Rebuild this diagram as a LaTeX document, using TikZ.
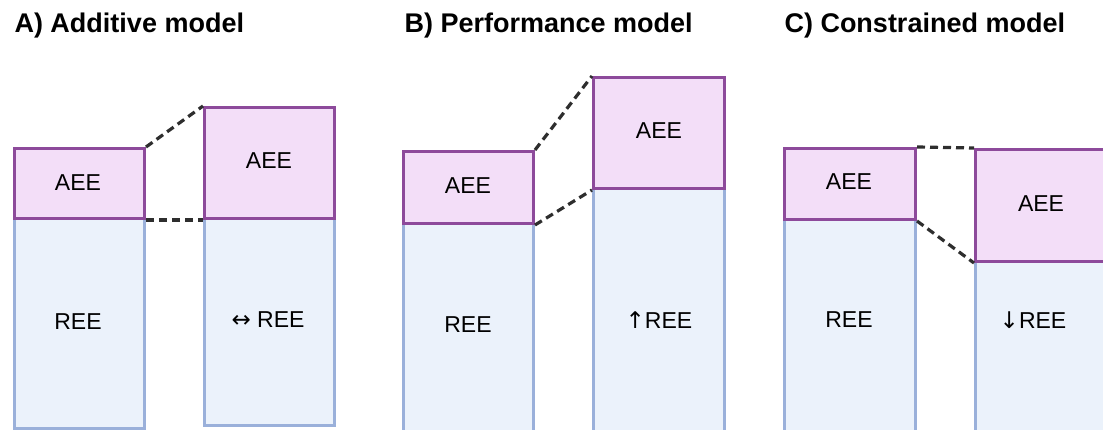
\documentclass[tikz,border=0pt]{standalone}
\usepackage{fontspec}
\setmainfont{Liberation Sans}
\newfontfamily\arrowfont{DejaVu Sans}
\definecolor{aeefill}{HTML}{F3DEF8}
\definecolor{aeeline}{HTML}{8D4A9B}
\definecolor{reefill}{HTML}{EBF2FB}
\definecolor{reeline}{HTML}{9AB0DA}
\definecolor{dashcol}{HTML}{2E2E2E}
\begin{document}
\begin{tikzpicture}[x=1pt,y=-1pt,
  aee/.style={draw=aeeline, fill=aeefill, line width=3pt, anchor=north west, inner sep=0pt},
  ree/.style={draw=reeline, fill=reefill, line width=3pt, anchor=north west, inner sep=0pt},
  lbl/.style={font=\fontsize{23}{25}\selectfont, text=black},
  ttl/.style={font=\fontsize{27}{30}\selectfont\bfseries, anchor=base west},
  link/.style={draw=dashcol, line width=3.2pt, dash pattern=on 8pt off 5pt}]
\useasboundingbox (0,0) rectangle (1103,430);
\clip (0,0) rectangle (1103,430);

% panel titles
\node[ttl] (ta) at (11,33) {A) Additive model};
\node[ttl] (tb) at (401,33) {B) Performance model};
\node[ttl] (tc) at (781,33) {C) Constrained model};

% A) additive model
\node[ree, minimum width=130, minimum height=210] (a1r) at (13,217) {};
\node[aee, minimum width=130, minimum height=70] (a1a) at (13,147) {};
\node[ree, minimum width=130, minimum height=207] (a2r) at (203,217) {};
\node[aee, minimum width=130, minimum height=111] (a2a) at (203,106) {};
\draw[link] (a1a.north east) -- (a2a.north west);
\draw[link] (a1a.south east) -- (a2a.south west);

% B) performance model
\node[ree, minimum width=130, minimum height=210] (b1r) at (402,222) {};
\node[aee, minimum width=130, minimum height=72] (b1a) at (402,150) {};
\node[ree, minimum width=131, minimum height=245] (b2r) at (592,187) {};
\node[aee, minimum width=131, minimum height=111] (b2a) at (592,76) {};
\draw[link] (b1a.north east) -- (b2a.north west);
\draw[link] (b1a.south east) -- (b2a.south west);

% C) constrained model
\node[ree, minimum width=131, minimum height=212] (c1r) at (783,218) {};
\node[aee, minimum width=131, minimum height=71] (c1a) at (783,147) {};
\node[ree, minimum width=140, minimum height=170] (c2r) at (974,260) {};
\node[aee, minimum width=140, minimum height=112] (c2a) at (974,148) {};
\draw[link] (c1a.north east) -- (c2a.north west);
\draw[link] (c1a.south east) -- (c2a.south west);

% box labels
\node[lbl] (la1a) at (78,183) {AEE};
\node[lbl] (la1r) at (78,322) {REE};
\node[lbl] (la2a) at (269,161) {AEE};
\node[lbl] (la2r) at (268,320) {{\arrowfont ↔} REE};
\node[lbl] (lb1a) at (468,186) {AEE};
\node[lbl] (lb1r) at (468,325) {REE};
\node[lbl] (lb2a) at (659,131) {AEE};
\node[lbl] (lb2r) at (659,320) {{\arrowfont ↑}REE};
\node[lbl] (lc1a) at (849,182) {AEE};
\node[lbl] (lc1r) at (849,320) {REE};
\node[lbl] (lc2a) at (1041,204) {AEE};
\node[lbl] (lc2r) at (1033,320) {{\arrowfont ↓}REE};
\end{tikzpicture}
\end{document}
